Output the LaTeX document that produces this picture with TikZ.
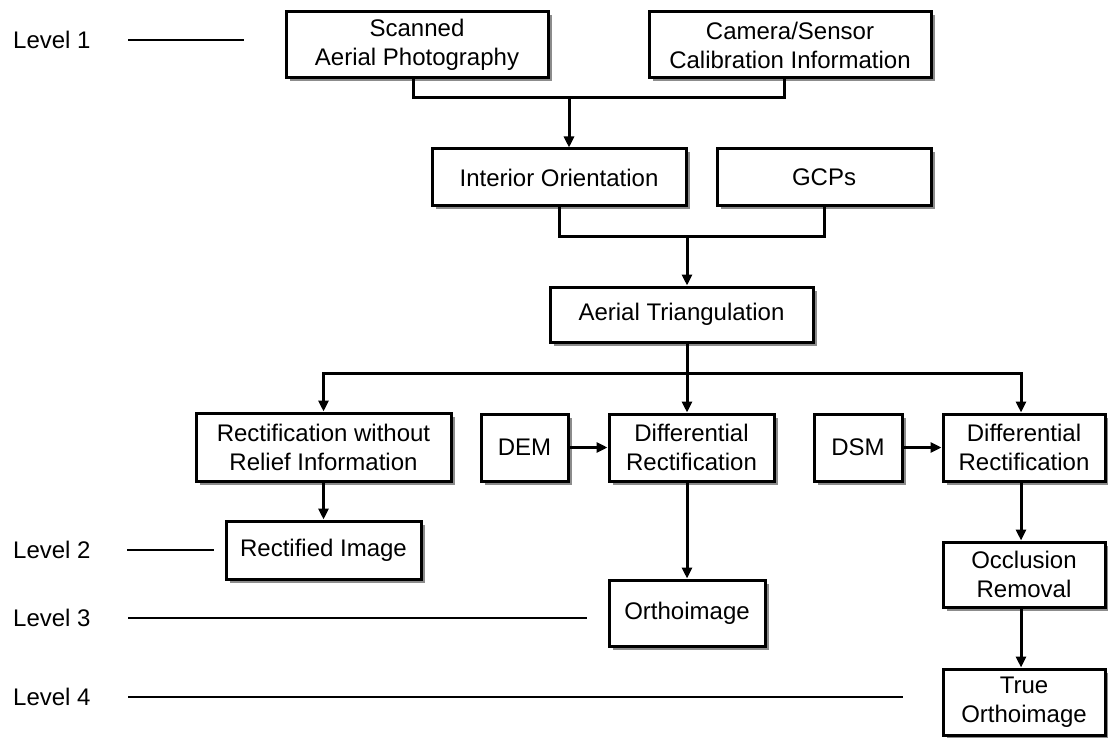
\documentclass[tikz,border=0pt]{standalone}
\usepackage{fontspec}
\setmainfont{Liberation Sans}
\usetikzlibrary{arrows.meta,shadows,calc}
\begin{document}
\begin{tikzpicture}[x=1pt,y=-1pt,
  box/.style={draw, line width=3pt, fill=white, inner sep=0pt, align=center,
    font=\fontsize{24}{29}\selectfont,
    drop shadow={shadow xshift=3.5pt, shadow yshift=-3.5pt, fill=black!45, opacity=1}},
  conn/.style={line width=3pt},
  arr/.style={line width=3pt, -{Triangle[length=11pt,width=10pt]}},
  lvl/.style={font=\fontsize{24}{29}\selectfont, inner sep=0pt, anchor=west},
  lvline/.style={line width=1.6pt}]
\useasboundingbox (0,0) rectangle (1108,738);

% boxes
\node[box, minimum width=262pt, minimum height=66pt] (scan) at (417,45) {Scanned\\Aerial Photography};
\node[box, minimum width=282pt, minimum height=66pt] (cam) at (790,45) {Camera/Sensor\\Calibration Information};
\node[box, minimum width=254pt, minimum height=57pt] (io) at (559,177.5) {Interior Orientation};
\node[box, minimum width=214pt, minimum height=57pt] (gcp) at (824,177.5) {GCPs};
\node[box, minimum width=263pt, minimum height=55pt] (at) at (681.5,314.5) {Aerial Triangulation};
\node[box, minimum width=255pt, minimum height=68pt] (rwr) at (323.5,447) {Rectification without\\Relief Information};
\node[box, minimum width=87pt, minimum height=67pt] (dem) at (524.5,447.5) {DEM};
\node[box, minimum width=165pt, minimum height=67pt] (dr1) at (691.5,447.5) {Differential\\Rectification};
\node[box, minimum width=88pt, minimum height=67pt] (dsm) at (858,447.5) {DSM};
\node[box, minimum width=162pt, minimum height=67pt] (dr2) at (1024,447.5) {Differential\\Rectification};
\node[box, minimum width=195pt, minimum height=58pt] (ri) at (323.5,550) {Rectified Image};
\node[box, minimum width=156pt, minimum height=66pt] (ortho) at (687,613) {Orthoimage};
\node[box, minimum width=162pt, minimum height=65pt] (occ) at (1024,574.5) {Occlusion\\Removal};
\node[box, minimum width=162pt, minimum height=66pt] (true) at (1024,702) {True\\Orthoimage};

% level labels
\node[lvl] (l1) at (13,40) {Level 1};
\node[lvl] (l2) at (13,550) {Level 2};
\node[lvl] (l3) at (13,618) {Level 3};
\node[lvl] (l4) at (13,697) {Level 4};
\coordinate (l1a) at (128,40);  \coordinate (l1b) at (244,40);
\coordinate (l2a) at (127,550); \coordinate (l2b) at (214,550);
\coordinate (l3a) at (128,618); \coordinate (l3b) at (587,618);
\coordinate (l4a) at (128,697); \coordinate (l4b) at (903,697);
\draw[lvline] (l1a) -- (l1b);
\draw[lvline] (l2a) -- (l2b);
\draw[lvline] (l3a) -- (l3b);
\draw[lvline] (l4a) -- (l4b);

% junction points
\coordinate (j1) at (569,98);
\coordinate (j2) at (687,236);
\coordinate (j3) at (687,373);

% connectors
\draw[conn] ([xshift=-4pt]scan.south) |- (j1) -| ([xshift=-6pt]cam.south);
\draw[arr] (j1) -- (j1 |- io.north);
\draw[conn] (io.south) |- (j2) -| (gcp.south);
\draw[arr] (j2) -- (j2 |- at.north);
\draw[conn] (j3 |- at.south) -- (j3);
\draw[arr] (j3) -| (rwr.north);
\draw[arr] (j3) -| ([xshift=-3pt]dr2.north);
\draw[arr] (j3) -- (j3 |- dr1.north);
\draw[arr] (dem.east) -- (dr1.west);
\draw[arr] (dsm.east) -- (dr2.west);
\draw[arr] (rwr.south) -- (ri.north);
\draw[arr] (ortho.north |- dr1.south) -- (ortho.north);
\draw[arr] ([xshift=-3pt]dr2.south) -- ([xshift=-3pt]occ.north);
\draw[arr] ([xshift=-3pt]occ.south) -- ([xshift=-3pt]true.north);
\end{tikzpicture}
\end{document}
